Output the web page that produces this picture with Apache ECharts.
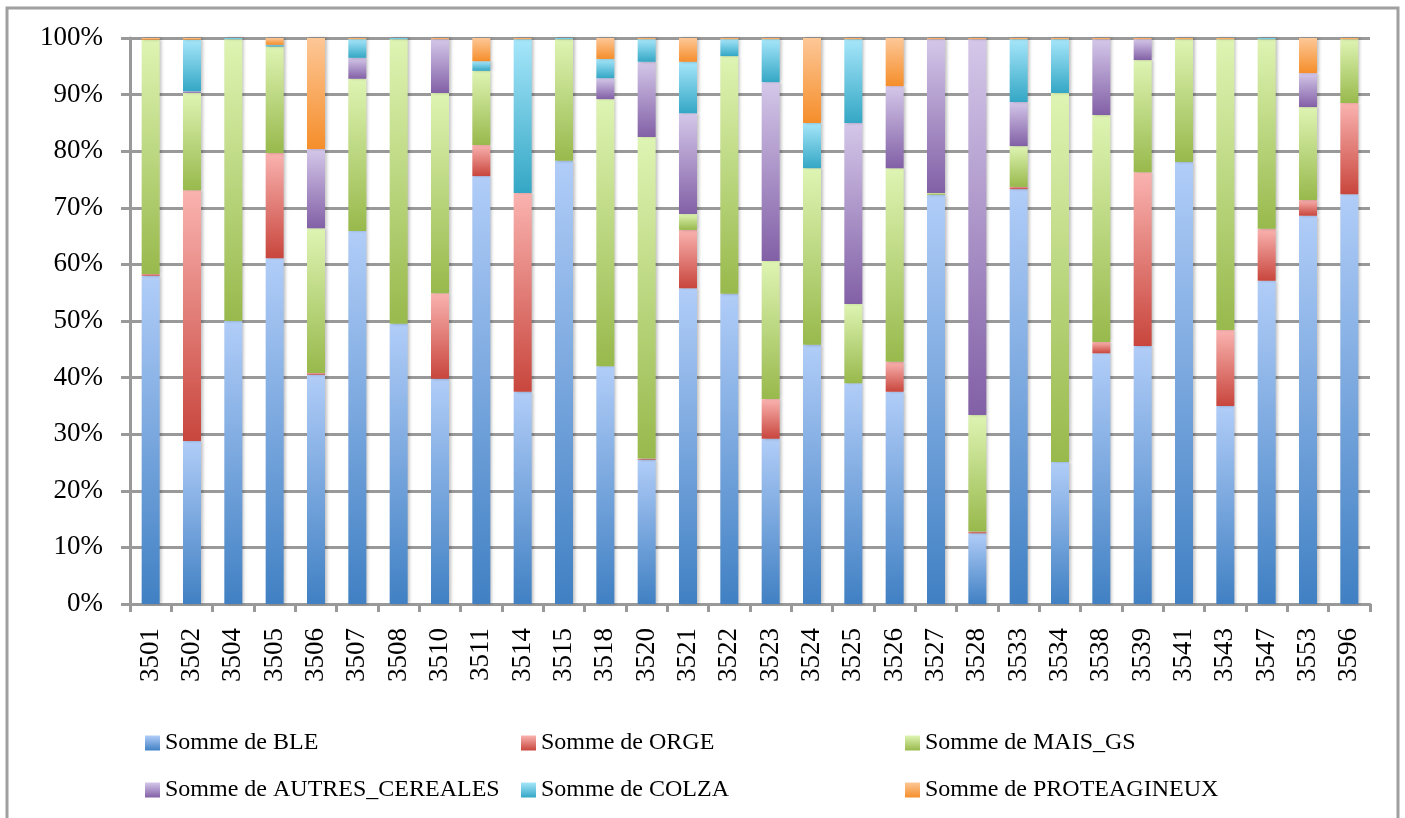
<!DOCTYPE html>
<html>
<head>
<meta charset="utf-8">
<title>Somme par commune</title>
<script src="https://cdn.jsdelivr.net/npm/echarts@6/dist/echarts.min.js"></script>
<style>
    html, body { margin: 0; padding: 0; background: #fff; }
    #main { width: 1405px; height: 818px; }
</style>
</head>
<body>
<div id="main"></div>
<script>
// donnees (en %)
var categories = ["3501","3502","3504","3505","3506","3507","3508","3510","3511","3514",
    "3515","3518","3520","3521","3522","3523","3524","3525","3526","3527",
    "3528","3533","3534","3538","3539","3541","3543","3547","3553","3596"];

var ble = [58, 28.8, 50, 61.1, 40.5, 65.9, 49.5, 39.8, 75.6, 37.5,
    78.3, 42.0, 25.5, 55.8, 54.8, 29.2, 45.8, 39.0, 37.5, 72.3,
    12.5, 73.3, 25.1, 44.3, 45.6, 78.1, 35.0, 57.1, 68.6, 72.4];
var orge = [0.3, 44.3, 0, 18.6, 0.3, 0, 0, 15.1, 5.5, 35.1,
    0, 0, 0.2, 10.3, 0, 7.0, 0, 0, 5.3, 0,
    0.3, 0.4, 0, 2, 30.7, 0, 13.4, 9.2, 2.8, 16.1];
var mais = [41.4, 17.2, 49.8, 18.8, 25.6, 26.9, 50.3, 35.4, 13.1, 0,
    21.5, 47.2, 56.8, 2.8, 42, 24.4, 31.2, 14, 34.2, 0.3,
    20.6, 7.2, 65.2, 40.1, 19.8, 21.7, 51.4, 33.5, 16.4, 11.3];
var autres = [0, 0.3, 0, 0, 14, 3.7, 0, 9.5, 0, 0,
    0, 3.7, 13.3, 17.8, 0, 31.6, 0, 32, 14.5, 27.2,
    66.4, 7.8, 0, 13.4, 3.7, 0, 0, 0, 6.0, 0];
var colza = [0, 9.1, 0.2, 0.3, 0, 3.3, 0.2, 0, 1.7, 27.2,
    0.2, 3.4, 4.0, 9.1, 3.0, 7.6, 8, 14.8, 0, 0,
    0, 11.1, 9.5, 0, 0, 0, 0, 0.2, 0, 0];
var prot = [0.3, 0.3, 0, 1.2, 19.6, 0.2, 0, 0.2, 4.1, 0.2,
    0, 3.7, 0.2, 4.2, 0.2, 0.2, 15, 0.2, 8.5, 0.2,
    0.2, 0.2, 0.2, 0.2, 0.2, 0.2, 0.2, 0, 6.2, 0.2];

var yTicks = [0, 10, 20, 30, 40, 50, 60, 70, 80, 90, 100];

var seriesNames = ["Somme de BLE", "Somme de ORGE", "Somme de MAIS_GS",
    "Somme de AUTRES_CEREALES", "Somme de COLZA", "Somme de PROTEAGINEUX"];

var MyCharts = {
    grad: function (top, bottom) {
        return new echarts.graphic.LinearGradient(0, 0, 0, 1, [
            { offset: 0, color: top },
            { offset: 1, color: bottom }
        ]);
    },
    getChart: function () {
        var myChart = echarts.init(document.getElementById("main"));
        var colors = [
            ["#b1cdf8", "#4080c3"],
            ["#fab3b0", "#c8463d"],
            ["#def4b3", "#98b94c"],
            ["#d4c7e9", "#8260a6"],
            ["#a6e6fa", "#34a7c5"],
            ["#fdc796", "#f58e2b"]
        ];
        var datas = [ble, orge, mais, autres, colza, prot];
        var legendPos = [[145, 743], [521, 743], [905, 743], [145, 790], [521, 790], [905, 790]];
        var series = [];
        var legends = [];
        for (var i = 0; i < seriesNames.length; i++) {
            series.push({
                name: seriesNames[i],
                type: 'bar',
                stack: 'total',
                barWidth: 18,
                data: datas[i],
                itemStyle: {
                    color: MyCharts.grad(colors[i][0], colors[i][1]),
                    shadowBlur: 3,
                    shadowOffsetX: 2,
                    shadowColor: 'rgba(0,0,0,0.25)'
                }
            });
            legends.push({
                data: [seriesNames[i]],
                left: legendPos[i][0],
                top: legendPos[i][1] - 12,
                icon: 'rect',
                itemWidth: 15,
                itemHeight: 15,
                itemGap: 0,
                padding: 0,
                selectedMode: false,
                textStyle: {
                    fontFamily: 'Liberation Serif',
                    fontSize: 24,
                    color: '#000'
                }
            });
        }
        var option = {
            animation: false,
            backgroundColor: '#fff',
            graphic: [{
                type: 'rect',
                silent: true,
                shape: { x: 7, y: 8, width: 1391, height: 840 },
                style: { fill: 'none', stroke: '#a0a0a0', lineWidth: 3 }
            }],
            grid: { left: 130, right: 35, top: 38, bottom: 214 },
            legend: legends,
            xAxis: {
                type: 'category',
                data: categories,
                axisLine: { lineStyle: { color: '#999', width: 3 } },
                axisTick: { show: true, length: 8, lineStyle: { color: '#999', width: 3 } },
                axisLabel: {
                    interval: 0,
                    rotate: 90,
                    margin: 24,
                    fontFamily: 'Liberation Serif',
                    fontSize: 27,
                    color: '#000'
                }
            },
            yAxis: {
                type: 'value',
                min: yTicks[0],
                max: yTicks[yTicks.length - 1],
                interval: 10,
                axisLine: { show: true, lineStyle: { color: '#999', width: 3 } },
                axisTick: { show: true, length: 9, lineStyle: { color: '#999', width: 3 } },
                splitLine: { lineStyle: { color: '#999', width: 3 } },
                axisLabel: {
                    formatter: '{value}%',
                    margin: 27,
                    fontFamily: 'Liberation Serif',
                    fontSize: 27,
                    color: '#000'
                }
            },
            series: series
        };
        myChart.setOption(option);
    }
};

window.onload = function () {
    MyCharts.getChart();
};
</script>
</body>
</html>
